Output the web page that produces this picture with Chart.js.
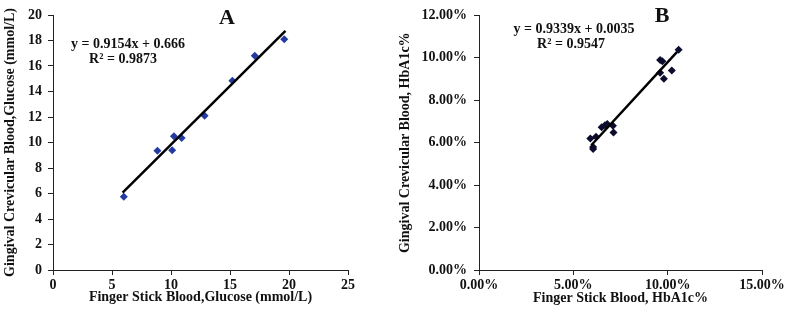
<!DOCTYPE html>
<html>
<head>
<meta charset="utf-8">
<script src="https://cdn.jsdelivr.net/npm/chart.js@4/dist/chart.umd.min.js"></script>
<style>
  html, body { margin: 0; padding: 0; background: #fff; }
  #wrap { position: relative; width: 787px; height: 315px; }
  .panel { position: absolute; top: 0; height: 315px; }
</style>
</head>
<body>
<div id="wrap">
  <div class="panel" style="left:0;width:393px"><canvas id="chartA" width="393" height="315"></canvas></div>
  <div class="panel" style="left:393px;width:394px"><canvas id="chartB" width="394" height="315"></canvas></div>
</div>
<script>
// Panel A: glucose, mmol/L
var glucoseFinger = [6.0, 8.85, 10.1, 10.25, 10.9, 12.85, 15.2, 17.1, 19.6];
var glucoseGcb    = [5.75, 9.35, 9.4, 10.5, 10.35, 12.1, 14.85, 16.8, 18.1];
var trendAx = [5.9, 19.7];
var trendAy = [6.06, 18.75];
var ticksAX = [0, 5, 10, 15, 20, 25];
var ticksAY = [0, 2, 4, 6, 8, 10, 12, 14, 16, 18, 20];

// Panel B: HbA1c, percent
var hba1cFinger = [5.9, 6.05, 6.05, 6.2, 6.5, 6.68, 6.8, 7.1, 7.13, 9.6, 9.72, 9.6, 9.8, 10.22, 10.58];
var hba1cGcb    = [6.2, 5.8, 5.7, 6.28, 6.73, 6.82, 6.88, 6.8, 6.48, 9.9, 9.84, 9.3, 9.02, 9.4, 10.38];
var trendBx = [5.95, 10.5];
var trendBy = [5.88, 10.28];
var ticksBX = [0, 5, 10, 15];
var ticksBY = [0, 2, 4, 6, 8, 10, 12];

var FONT = '"Liberation Serif", "Times New Roman", serif';

function zip(xs, ys) {
  return xs.map(function (x, i) { return { x: x, y: ys[i] }; });
}

// fixed label texts drawn on top of the plot
var textPlugin = {
  id: 'labels',
  afterDraw: function (chart) {
    var items = chart.options.plugins.labels.items || [];
    var ctx = chart.ctx;
    ctx.save();
    ctx.fillStyle = '#111';
    ctx.textAlign = 'center';
    ctx.textBaseline = 'middle';
    items.forEach(function (t) {
      ctx.font = 'bold ' + t.size + 'px ' + FONT;
      ctx.fillText(t.text, t.x, t.y);
    });
    ctx.restore();
  }
};

function axis(opts) {
  return {
    type: 'linear',
    min: opts.min,
    max: opts.max,
    afterBuildTicks: function (scale) {
      scale.ticks = opts.ticks.map(function (v) { return { value: v }; });
    },
    afterFit: function (scale) {
      if (opts.width) scale.width = opts.width;
      if (opts.height) scale.height = opts.height;
    },
    border: { display: true, color: '#222', width: 1 },
    grid: {
      display: true,
      drawOnChartArea: false,
      drawTicks: true,
      tickLength: 5,
      color: '#222'
    },
    ticks: {
      color: '#111',
      padding: opts.pad,
      font: { family: FONT, size: 14, weight: 'bold' },
      callback: opts.fmt
    },
    title: {
      display: true,
      text: opts.title,
      color: '#111',
      padding: 0,
      font: { family: FONT, size: 14, weight: 'bold' }
    }
  };
}

function makeChart(id, pts, trend, color, scales, padding, labels) {
  return new Chart(document.getElementById(id), {
    type: 'scatter',
    data: {
      datasets: [
        {
          data: trend,
          type: 'line',
          borderColor: '#000',
          borderWidth: 2.5,
          pointRadius: 0,
          fill: false
        },
        {
          data: pts,
          pointStyle: 'rectRot',
          pointRadius: 4,
          backgroundColor: color,
          borderColor: color,
          borderWidth: 0
        }
      ]
    },
    options: {
      responsive: false,
      animation: false,
      layout: { padding: padding },
      scales: scales,
      plugins: {
        legend: { display: false },
        tooltip: { enabled: false },
        labels: { items: labels }
      }
    },
    plugins: [textPlugin]
  });
}

makeChart('chartA', zip(glucoseFinger, glucoseGcb), zip(trendAx, trendAy), '#233ba0', {
  x: axis({ min: 0, max: 25, ticks: ticksAX, pad: 2, height: 36,
    title: 'Finger Stick Blood,Glucose (mmol/L)' }),
  y: axis({ min: 0, max: 20, ticks: ticksAY, pad: 6, width: 51,
    title: 'Gingival Crevicular Blood,Glucose (mmol/L)' })
}, { left: 2, right: 45, top: 15, bottom: 9 }, [
  { text: 'A', x: 227, y: 18, size: 22 },
  { text: 'y = 0.9154x + 0.666', x: 128, y: 44, size: 14 },
  { text: 'R\u00b2 = 0.9873', x: 123, y: 59, size: 14 }
]);

function pct(v) { return Number(v).toFixed(2) + '%'; }

makeChart('chartB', zip(hba1cFinger, hba1cGcb), zip(trendBx, trendBy), '#0c0c2c', {
  x: axis({ min: 0, max: 15, ticks: ticksBX, pad: 2, height: 37, fmt: pct,
    title: 'Finger Stick Blood, HbA1c%' }),
  y: axis({ min: 0, max: 12, ticks: ticksBY, pad: 7, width: 82, fmt: pct,
    title: 'Gingival Crevicular Blood, HbA1c%' })
}, { left: 4, right: 25, top: 10, bottom: 8 }, [
  { text: 'B', x: 269, y: 16, size: 22 },
  { text: 'y = 0.9339x + 0.0035', x: 181, y: 29, size: 14 },
  { text: 'R\u00b2 = 0.9547', x: 178, y: 44, size: 14 }
]);
</script>
</body>
</html>
